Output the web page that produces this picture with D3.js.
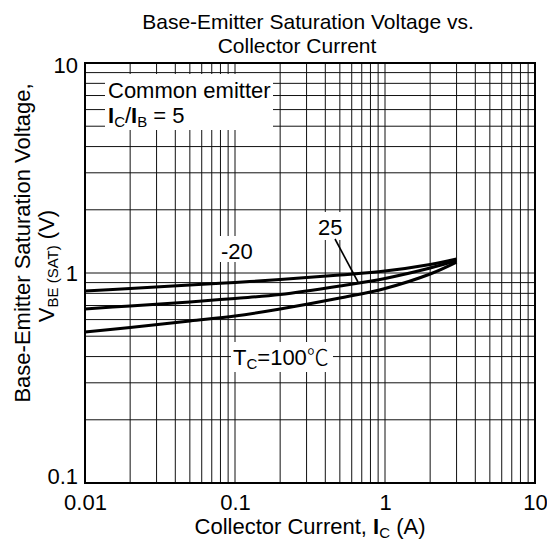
<!DOCTYPE html>
<html><head><meta charset="utf-8">
<script src="https://cdn.jsdelivr.net/npm/d3@7"></script>
<style>
body{margin:0;background:#fff}
text{font-family:"Liberation Sans",Arial,sans-serif;fill:#000}
</style>
</head><body>
<svg id="c" width="547" height="541"></svg>
<script>
// ---- data ----
const currentA = [0.01, 0.02, 0.05, 0.1, 0.2, 0.5, 1, 2, 3];
const vbeTm20  = [0.821, 0.844, 0.877, 0.901, 0.931, 0.978, 1.022, 1.098, 1.166];
const vbeT25   = [0.674, 0.697, 0.728, 0.757, 0.790, 0.867, 0.942, 1.056, 1.147];
const vbeT100  = [0.524, 0.550, 0.591, 0.624, 0.674, 0.760, 0.844, 0.989, 1.127];
const xTickValues = [0.01, 0.1, 1, 10];
const xTickLabels = ["0.01", "0.1", "1", "10"];
const yTickValues = [0.1, 1, 10];
const yTickLabels = ["0.1", "1", "10"];

const svg = d3.select("#c");
svg.append("rect").attr("width",547).attr("height",541).attr("fill","#fff");

const L=85,R=535,T=63,B=483;
const x = d3.scaleLog().domain([0.01,10]).range([L,R]);
const y = d3.scaleLog().domain([0.1,10]).range([B,T]);

// grid
const g = svg.append("g").attr("stroke","#111").attr("stroke-width",1);
x.ticks().forEach(v=>{ g.append("line").attr("x1",x(v)).attr("x2",x(v)).attr("y1",T).attr("y2",B); });
y.ticks().forEach(v=>{ g.append("line").attr("y1",y(v)).attr("y2",y(v)).attr("x1",L).attr("x2",R); });

// frame
svg.append("rect").attr("x",L).attr("y",T).attr("width",R-L).attr("height",B-T)
  .attr("fill","none").attr("stroke","#000").attr("stroke-width",2);

// axes labels
const xa = svg.append("g").attr("transform",`translate(0,${B})`)
  .call(d3.axisBottom(x).tickValues(xTickValues).tickSize(0).tickPadding(11)
    .tickFormat((d,i)=>xTickLabels[i]));
xa.select(".domain").remove();
xa.selectAll("text").attr("font-size",22).attr("font-family","Liberation Sans, Arial, sans-serif").attr("fill","#000");

const ya = svg.append("g").attr("transform",`translate(${L},0)`)
  .call(d3.axisLeft(y).tickValues(yTickValues).tickSize(0).tickPadding(7)
    .tickFormat((d,i)=>yTickLabels[i]));
ya.select(".domain").remove();
ya.selectAll("text").attr("font-size",22).attr("font-family","Liberation Sans, Arial, sans-serif").attr("fill","#000")
  .attr("dy",d=> d===0.1 ? "0" : (d===10 ? "0.45em" : "0.32em"));

// curves
const line = d3.line().x(d=>x(d[0])).y(d=>y(d[1])).curve(d3.curveCatmullRom.alpha(0.5));
[vbeTm20, vbeT25, vbeT100].forEach(s=>{
  svg.append("path").datum(currentA.map((c,i)=>[c,s[i]]))
    .attr("d",line).attr("fill","none").attr("stroke","#000").attr("stroke-width",3);
});

// annotation boxes
function box(x0,y0,w,h){ svg.append("rect").attr("x",x0).attr("y",y0).attr("width",w).attr("height",h).attr("fill","#fff"); }
box(105,74,168,56);
box(219,236,38,26);
box(315,212,33,28);
box(231,342,102,30);

// Common emitter
svg.append("text").attr("x",108).attr("y",98).attr("font-size",22).text("Common emitter");
const t2 = svg.append("text").attr("x",108).attr("y",123).attr("font-size",22);
t2.append("tspan").attr("font-weight","bold").text("I");
t2.append("tspan").attr("font-size",15).attr("dy",4).text("C");
t2.append("tspan").attr("dy",-4).text("/");
t2.append("tspan").attr("font-weight","bold").text("I");
t2.append("tspan").attr("font-size",15).attr("dy",4).text("B");
t2.append("tspan").attr("dy",-4).text(" = 5");

// curve labels
svg.append("text").attr("x",221).attr("y",259).attr("font-size",22).text("-20");
svg.append("text").attr("x",318).attr("y",235).attr("font-size",22).text("25");
svg.append("line").attr("x1",335).attr("y1",239).attr("x2",358).attr("y2",282)
  .attr("stroke","#000").attr("stroke-width",1.6);
const tc = svg.append("text").attr("x",233).attr("y",365).attr("font-size",22);
tc.append("tspan").text("T");
tc.append("tspan").attr("font-size",15).attr("dy",4).text("C");
tc.append("tspan").attr("dy",-4).text("=100");
tc.append("tspan").attr("font-family","Noto Sans CJK JP").attr("font-weight",300).text("℃");

// titles
svg.append("text").attr("x",308).attr("y",29).attr("text-anchor","middle").attr("font-size",21)
  .text("Base-Emitter Saturation Voltage vs.");
svg.append("text").attr("x",297).attr("y",53).attr("text-anchor","middle").attr("font-size",21)
  .text("Collector Current");

const xt = svg.append("text").attr("x",310).attr("y",534).attr("text-anchor","middle").attr("font-size",22);
xt.append("tspan").text("Collector Current, ");
xt.append("tspan").attr("font-weight","bold").text("I");
xt.append("tspan").attr("font-size",15).attr("dy",4).text("C");
xt.append("tspan").attr("dy",-4).text(" (A)");

svg.append("text").attr("transform","translate(30,243) rotate(-90)")
  .attr("text-anchor","middle").attr("font-size",22).text("Base-Emitter Saturation Voltage,");
const yt2 = svg.append("text").attr("transform","translate(54,266) rotate(-90)")
  .attr("text-anchor","middle").attr("font-size",22);
yt2.append("tspan").text("V");
yt2.append("tspan").attr("font-size",15).attr("dy",4).text("BE (SAT)");
yt2.append("tspan").attr("dy",-4).text(" (V)");
</script>
</body></html>
